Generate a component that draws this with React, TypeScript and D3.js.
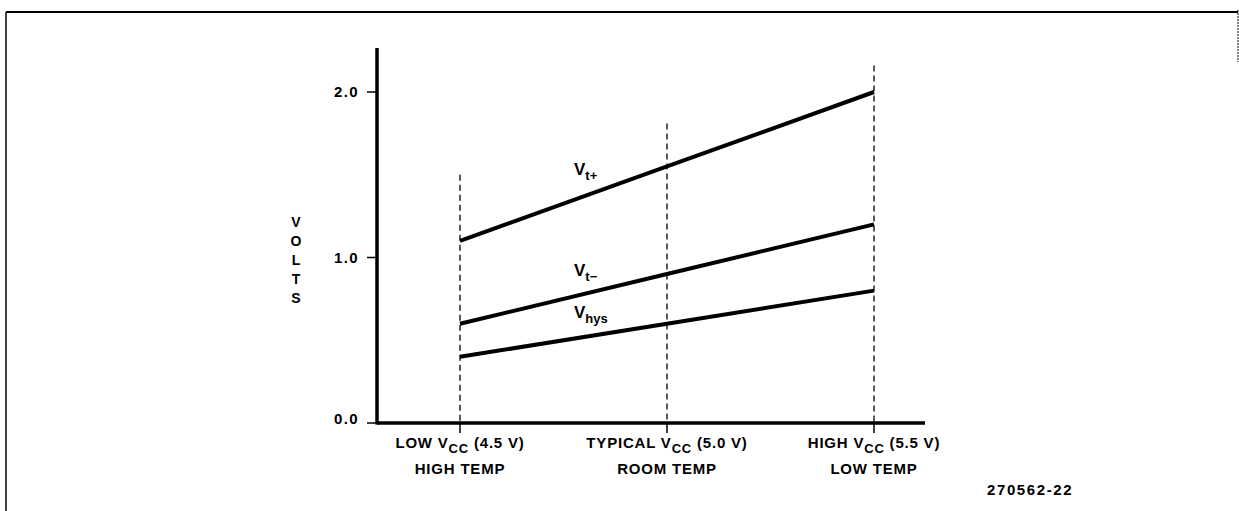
import React, { useRef, useEffect } from 'react';
import * as d3 from 'd3';

// supply conditions along the x axis (Vcc, volts)
const vccValues = [4.5, 5.0, 5.5];
const xLabelTop = [
  { pre: 'LOW V', sub: 'CC', post: ' (4.5 V)' },
  { pre: 'TYPICAL V', sub: 'CC', post: ' (5.0 V)' },
  { pre: 'HIGH V', sub: 'CC', post: ' (5.5 V)' },
];
const xLabelBottom = ['HIGH TEMP', 'ROOM TEMP', 'LOW TEMP'];

// threshold curves, volts at each condition
const vtPlus = [1.1, 1.55, 2.0];
const vtMinus = [0.6, 0.9, 1.2];
const vHys = [0.4, 0.6, 0.8];

// how far up each dashed guide reaches (volts)
const guideTops = [1.5, 1.81, 2.16];

const yTicks = [0.0, 1.0, 2.0];
const yTitle = ['V', 'O', 'L', 'T', 'S'];
const figureId = '270562-22';

const FONT = '"Liberation Sans", Arial, sans-serif';

export default function App() {
  const svgRef = useRef<SVGSVGElement>(null);
  const width = 1239;
  const height = 511;

  useEffect(() => {
    const svg = d3.select(svgRef.current);
    svg.selectAll('*').remove();

    const x = d3.scaleLinear().domain([4.5, 5.5]).range([460, 874]);
    const y = d3.scaleLinear().domain([0, 2]).range([423, 92]);

    const axisLeftX = 377;
    const axisRightX = 925;
    const axisTopY = 48;

    // page frame
    svg.append('line').attr('x1', 6).attr('x2', 1238).attr('y1', 12).attr('y2', 12)
      .attr('stroke', '#000').attr('stroke-width', 2);
    svg.append('line').attr('x1', 6).attr('x2', 6).attr('y1', 12).attr('y2', height)
      .attr('stroke', '#000').attr('stroke-width', 1.5);
    svg.append('line').attr('x1', 1238).attr('x2', 1238).attr('y1', 10).attr('y2', 62)
      .attr('stroke', '#000').attr('stroke-width', 1).attr('stroke-dasharray', '2 1');

    // dashed guides at each condition
    svg.append('g')
      .selectAll('line')
      .data(vccValues)
      .join('line')
      .attr('x1', d => x(d))
      .attr('x2', d => x(d))
      .attr('y1', (d, i) => y(guideTops[i]))
      .attr('y2', y(0))
      .attr('stroke', '#000')
      .attr('stroke-width', 1.3)
      .attr('stroke-dasharray', '6 4');

    // small ticks below x axis
    svg.append('g')
      .selectAll('line')
      .data(vccValues)
      .join('line')
      .attr('x1', d => x(d))
      .attr('x2', d => x(d))
      .attr('y1', y(0))
      .attr('y2', y(0) + 10)
      .attr('stroke', '#000')
      .attr('stroke-width', 1.5);

    // axes
    svg.append('line')
      .attr('x1', axisLeftX).attr('x2', axisLeftX)
      .attr('y1', axisTopY).attr('y2', y(0) + 1.5)
      .attr('stroke', '#000').attr('stroke-width', 3.5);
    svg.append('line')
      .attr('x1', axisLeftX).attr('x2', axisRightX)
      .attr('y1', y(0)).attr('y2', y(0))
      .attr('stroke', '#000').attr('stroke-width', 3.5);

    // y ticks + labels
    const yt = svg.append('g');
    yt.selectAll('line')
      .data(yTicks)
      .join('line')
      .attr('x1', axisLeftX - 10)
      .attr('x2', axisLeftX)
      .attr('y1', d => y(d))
      .attr('y2', d => y(d))
      .attr('stroke', '#000')
      .attr('stroke-width', 1.5);
    yt.selectAll('text')
      .data(yTicks)
      .join('text')
      .attr('x', 359)
      .attr('y', d => y(d) - (d === 0 ? 4 : 0))
      .attr('dy', '0.35em')
      .attr('text-anchor', 'end')
      .attr('font-family', FONT)
      .attr('font-weight', 'bold')
      .attr('font-size', 15)
      .attr('letter-spacing', 1.4)
      .text(d => d.toFixed(1));

    // stacked y title
    svg.append('g')
      .selectAll('text')
      .data(yTitle)
      .join('text')
      .attr('x', 296)
      .attr('y', (d, i) => 227 + i * 19)
      .attr('text-anchor', 'middle')
      .attr('font-family', FONT)
      .attr('font-weight', 'bold')
      .attr('font-size', 14)
      .text(d => d);

    // curves
    const line = d3.line<number>()
      .x((d, i) => x(vccValues[i]))
      .y(d => y(d));

    [vtPlus, vtMinus, vHys].forEach(series => {
      svg.append('path')
        .datum(series)
        .attr('fill', 'none')
        .attr('stroke', '#000')
        .attr('stroke-width', 4)
        .attr('stroke-linecap', 'butt')
        .attr('d', line);
    });

    // curve labels
    const curveLabels = [
      { sub: 't+', at: 175 },
      { sub: 't\u2212', at: 276 },
      { sub: 'hys', at: 318 },
    ];
    curveLabels.forEach(l => {
      const t = svg.append('text')
        .attr('x', 574)
        .attr('y', l.at)
        .attr('font-family', FONT)
        .attr('font-weight', 'bold')
        .attr('font-size', 17)
        .text('V');
      t.append('tspan')
        .attr('dy', 5)
        .attr('font-size', 13)
        .text(l.sub);
    });

    // x category labels
    const xl = svg.append('g');
    vccValues.forEach((v, i) => {
      const lab = xLabelTop[i];
      const t = xl.append('text')
        .attr('x', x(v))
        .attr('y', 448)
        .attr('text-anchor', 'middle')
        .attr('font-family', FONT)
        .attr('font-weight', 'bold')
        .attr('font-size', 15)
        .attr('letter-spacing', 0.8);
      t.append('tspan').text(lab.pre);
      t.append('tspan').attr('dy', 5).attr('font-size', 13).text(lab.sub);
      t.append('tspan').attr('dy', -5).text(lab.post);

      xl.append('text')
        .attr('x', x(v))
        .attr('y', 474)
        .attr('text-anchor', 'middle')
        .attr('font-family', FONT)
        .attr('font-weight', 'bold')
        .attr('font-size', 15)
        .attr('letter-spacing', 0.8)
        .text(xLabelBottom[i]);
    });

    // figure number
    svg.append('text')
      .attr('x', 987)
      .attr('y', 495)
      .attr('font-family', FONT)
      .attr('font-weight', 'bold')
      .attr('font-size', 15)
      .attr('letter-spacing', 1.6)
      .text(figureId);
  }, []);

  return (
    <svg
      ref={svgRef}
      width={width}
      height={height}
      style={{ position: 'absolute', left: 0, top: 0, background: '#fff' }}
    />
  );
}
